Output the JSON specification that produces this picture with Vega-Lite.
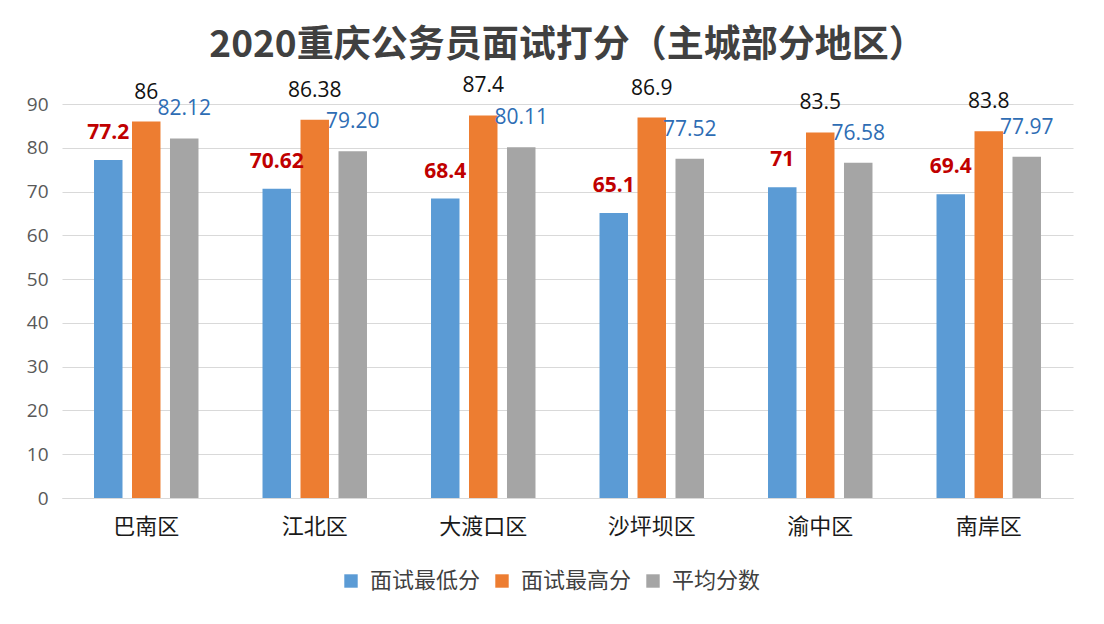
{
  "$schema": "https://vega.github.io/schema/vega-lite/v6.json",
  "width": 1011,
  "height": 394,
  "autosize": {"type": "none"},
  "padding": {"left": 62, "top": 104, "right": 31, "bottom": 126},
  "background": "white",
  "title": {
    "text": "2020重庆公务员面试打分（主城部分地区）",
    "font": "Noto Sans CJK SC",
    "fontSize": 37,
    "fontWeight": "bold",
    "color": "#404040",
    "anchor": "middle",
    "frame": "group",
    "offset": 10
  },
  "config": {
    "view": {"stroke": null}
  },
  "data": {
    "values": [
      {"district": "巴南区", "series": "面试最低分", "value": 77.2},
      {"district": "巴南区", "series": "面试最高分", "value": 86},
      {"district": "巴南区", "series": "平均分数", "value": 82.12},
      {"district": "江北区", "series": "面试最低分", "value": 70.62},
      {"district": "江北区", "series": "面试最高分", "value": 86.38},
      {"district": "江北区", "series": "平均分数", "value": 79.2},
      {"district": "大渡口区", "series": "面试最低分", "value": 68.4},
      {"district": "大渡口区", "series": "面试最高分", "value": 87.4},
      {"district": "大渡口区", "series": "平均分数", "value": 80.11},
      {"district": "沙坪坝区", "series": "面试最低分", "value": 65.1},
      {"district": "沙坪坝区", "series": "面试最高分", "value": 86.9},
      {"district": "沙坪坝区", "series": "平均分数", "value": 77.52},
      {"district": "渝中区", "series": "面试最低分", "value": 71},
      {"district": "渝中区", "series": "面试最高分", "value": 83.5},
      {"district": "渝中区", "series": "平均分数", "value": 76.58},
      {"district": "南岸区", "series": "面试最低分", "value": 69.4},
      {"district": "南岸区", "series": "面试最高分", "value": 83.8},
      {"district": "南岸区", "series": "平均分数", "value": 77.97}
    ]
  },
  "encoding": {
    "x": {
      "field": "district",
      "type": "nominal",
      "sort": ["巴南区", "江北区", "大渡口区", "沙坪坝区", "渝中区", "南岸区"],
      "scale": {"paddingInner": 0.38, "paddingOuter": 0.19},
      "axis": {
        "title": null,
        "labelAngle": 0,
        "ticks": false,
        "domain": true,
        "domainColor": "#D9D9D9",
        "labelFont": "Noto Sans CJK SC",
        "labelFontSize": 22,
        "labelColor": "#1a1a1a",
        "labelPadding": 18
      }
    },
    "xOffset": {
      "field": "series",
      "type": "nominal",
      "scale": {"domain": ["面试最低分", "面试最高分", "平均分数"], "paddingInner": 0.25, "paddingOuter": 0}
    },
    "y": {
      "field": "value",
      "type": "quantitative",
      "scale": {"domain": [0, 90], "nice": false},
      "axis": {
        "title": null,
        "values": [0, 10, 20, 30, 40, 50, 60, 70, 80, 90],
        "ticks": false,
        "domain": false,
        "gridColor": "#D9D9D9",
        "labelFont": "Open Sans",
        "labelFontSize": 19,
        "labelColor": "#595959",
        "labelPadding": 14
      }
    }
  },
  "layer": [
    {
      "mark": {"type": "bar"},
      "encoding": {
        "color": {
          "field": "series",
          "type": "nominal",
          "scale": {"domain": ["面试最低分", "面试最高分", "平均分数"], "range": ["#5B9BD5", "#ED7D31", "#A5A5A5"]},
          "legend": {
            "title": null,
            "orient": "none",
            "legendX": 278,
            "legendY": 466,
            "direction": "horizontal",
            "symbolType": "square",
            "symbolSize": 180,
            "symbolStrokeWidth": 0,
            "labelFont": "Noto Sans CJK SC",
            "labelFontSize": 22,
            "labelColor": "#404040",
            "labelLimit": 300,
            "columnPadding": 10,
            "labelOffset": 8
          }
        }
      }
    },
    {
      "transform": [{"filter": "datum.series === '面试最低分'"}],
      "mark": {"type": "text", "dy": -27, "baseline": "middle", "font": "Open Sans", "fontSize": 21, "fontWeight": "bold", "color": "#C00000"},
      "encoding": {"text": {"field": "value", "type": "quantitative"}}
    },
    {
      "transform": [{"filter": "datum.series === '面试最高分'"}],
      "mark": {"type": "text", "dy": -29, "baseline": "middle", "font": "Open Sans", "fontSize": 21, "color": "#111111"},
      "encoding": {"text": {"field": "value", "type": "quantitative"}}
    },
    {
      "transform": [{"filter": "datum.series === '平均分数'"}],
      "mark": {"type": "text", "dy": -29, "baseline": "middle", "font": "Open Sans", "fontSize": 21, "color": "#2E6DB4"},
      "encoding": {"text": {"field": "value", "type": "quantitative", "format": ".2f"}}
    }
  ]
}
